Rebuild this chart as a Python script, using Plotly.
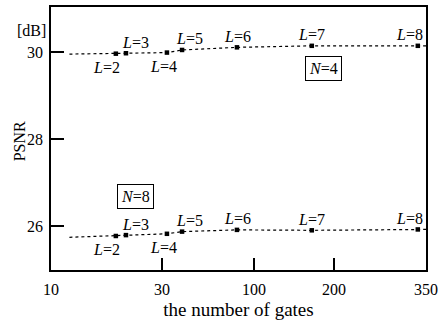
import numpy as np
import plotly.graph_objects as go

# ---- data ----
L_labels = ["2", "3", "4", "5", "6", "7", "8"]
gates = [19, 21, 32, 39, 80, 165, 333]
psnr_n4 = [29.96, 29.97, 29.985, 30.045, 30.105, 30.14, 30.14]
psnr_n8 = [25.78, 25.80, 25.83, 25.88, 25.92, 25.91, 25.93]
# dotted guide curves
curve_gates = [12, 19, 21, 32, 39, 80, 165, 333, 350]
curve_n4 = [29.95, 29.96, 29.97, 29.985, 30.045, 30.105, 30.14, 30.14, 30.14]
curve_n8 = [25.75, 25.78, 25.80, 25.83, 25.88, 25.92, 25.91, 25.93, 25.93]
x_ticks = [10, 30, 100, 200, 350]
y_ticks = [26, 28, 30]
# label placement: above (1) or below (-1)
label_side = [-1, 1, -1, 1, 1, 1, 1]
label_dx = [-9, 10, -3, 7, 1, 0, -8]

# ---- custom (hand-drawn) gate axis scale: piecewise log between tick anchors ----
anchor_units = [0, 111, 203, 283, 375]
def scale(g):
    return np.interp(np.log10(np.asarray(g, dtype=float)), np.log10(x_ticks), anchor_units)

FONT = "Liberation Serif"
fig = go.Figure()
for cx, cy in [(curve_gates, curve_n4), (curve_gates, curve_n8)]:
    fig.add_trace(go.Scatter(x=scale(cx), y=cy, mode="lines",
                             line=dict(color="black", width=1.2, dash="dot"),
                             showlegend=False, hoverinfo="skip"))
for ys in [psnr_n4, psnr_n8]:
    fig.add_trace(go.Scatter(x=scale(gates), y=ys, mode="markers",
                             marker=dict(symbol="square", size=4.5, color="black"),
                             showlegend=False))

ann = []
xs = scale(gates)
for ys in [psnr_n4, psnr_n8]:
    for i, lab in enumerate(L_labels):
        ann.append(dict(x=xs[i], y=ys[i], text="<i>L</i>=" + lab, showarrow=False,
                        xshift=label_dx[i], yshift=(11 if label_side[i] > 0 else -14),
                        font=dict(family=FONT, size=16, color="black")))
# boxed N labels
ann.append(dict(x=scale(183)[()], y=29.63, text="<i>N</i>=4", showarrow=False,
                bordercolor="black", borderwidth=1, borderpad=3,
                font=dict(family=FONT, size=16, color="black")))
ann.append(dict(x=scale(23)[()], y=26.68, text="<i>N</i>=8", showarrow=False,
                bordercolor="black", borderwidth=1, borderpad=3,
                font=dict(family=FONT, size=16, color="black")))
ann.append(dict(xref="paper", x=0, xanchor="right", xshift=-3, y=30.5, text="[dB]",
                showarrow=False, font=dict(family=FONT, size=16, color="black")))
ann.append(dict(xref="paper", x=0, xanchor="center", xshift=-32, y=27.95, text="PSNR",
                textangle=-90, showarrow=False, font=dict(family=FONT, size=16, color="black")))

fig.update_layout(
    width=445, height=322,
    margin=dict(l=51, r=19, t=5, b=48),
    paper_bgcolor="white", plot_bgcolor="white",
    font=dict(family=FONT, size=16, color="black"),
    annotations=ann,
    xaxis=dict(range=[0, 375], tickvals=scale(x_ticks), ticktext=[str(v) for v in x_ticks],
               ticks="inside", ticklen=12, tickwidth=1.5, tickcolor="black",
               showline=True, linecolor="black", linewidth=1.5, mirror=True,
               showgrid=False, zeroline=False, ticklabelstandoff=4,
               title=dict(text="the number of gates", standoff=6)),
    yaxis=dict(range=[25.0, 31.03], tickvals=y_ticks,
               ticks="inside", ticklen=13, tickwidth=1.5, tickcolor="black",
               showline=True, linecolor="black", linewidth=1.5, mirror=True,
               showgrid=False, zeroline=False, ticklabelstandoff=3),
)
fig.write_html("out.html", post_script="document.body.style.margin='0';",
               config={"displayModeBar": False})
